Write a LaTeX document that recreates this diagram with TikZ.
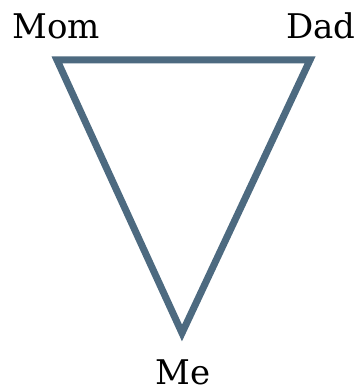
\documentclass[tikz,border=0pt]{standalone}
\usepackage{fontspec}
\setmainfont{DejaVu Serif}
\definecolor{edgecol}{HTML}{4D6A80}
\begin{document}
\begin{tikzpicture}[x=1pt,y=1pt,
  edge/.style={draw=edgecol,line width=7pt,line cap=butt,line join=miter},
  lbl/.style={font=\fontsize{34}{34}\selectfont,inner sep=0pt,text=black}]
\useasboundingbox (0,0) rectangle (358,388);
\coordinate (mom) at (57,328);
\coordinate (dad) at (310,328);
\coordinate (me) at (182,55);
\draw[edge] (mom) -- (dad) -- (me) -- cycle;
\node[lbl,anchor=base] (lmom) at (56,349) {Mom};
\node[lbl,anchor=base] (ldad) at (321,349) {Dad};
\node[lbl,anchor=base] (lme) at (183,4) {Me};
\end{tikzpicture}
\end{document}
